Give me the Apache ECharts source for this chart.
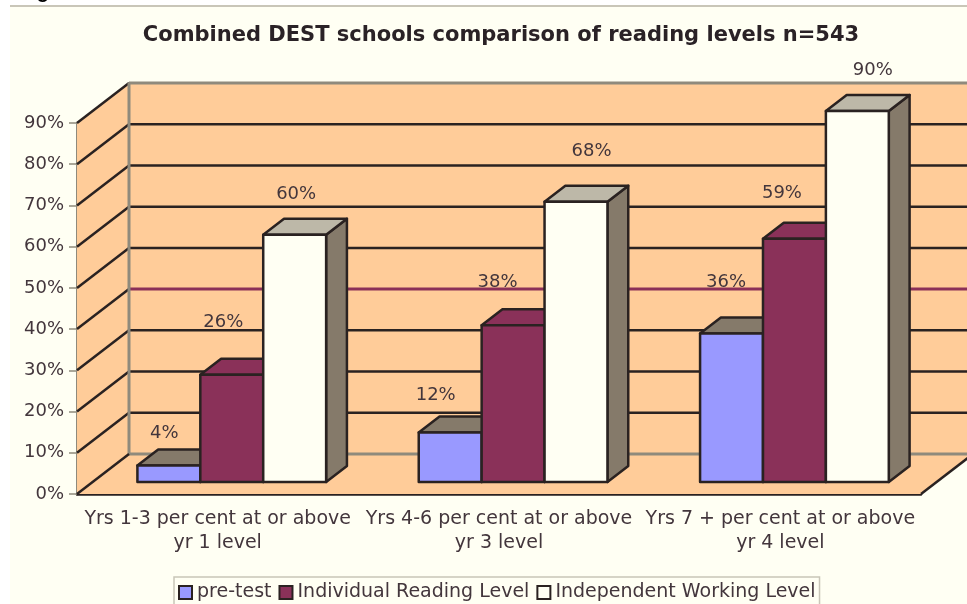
<!DOCTYPE html>
<html>
<head>
<meta charset="utf-8">
<script src="https://cdn.jsdelivr.net/npm/echarts@6/dist/echarts.min.js"></script>
<style>
html,body{margin:0;padding:0;background:#fff;overflow:hidden}
#c{width:967px;height:604px;filter:blur(0.7px)}
</style>
</head>
<body>
<div id="c"></div>
<script>
const categories = ['Yrs 1-3 per cent at or above\nyr 1 level','Yrs 4-6 per cent at or above\nyr 3 level','Yrs 7 + per cent at or above\nyr 4 level'];
const preTest = [4, 12, 36];
const individual = [26, 38, 59];
const independent = [60, 68, 90];
const seriesNames = ['pre-test','Individual Reading Level','Independent Working Level'];
const yTicks = [0,10,20,30,40,50,60,70,80,90];
const titleText = 'Combined DEST schools comparison of reading levels n=543';

// styling / layout
const faceColors = ['#9999ff','#8a3159','#fffff3'];
const topColors  = ['#857a6a','#8a3159','#bdb8a8'];
const sideColors = ['#857a6a','#8a3159','#857a6a'];
const labelShift = [
  [[-6,-32],[-10,-52],[0,-40]],
  [[-16,-37],[-17,-43],[14,-50]],
  [[-7,-51],[-14,-45],[14,-41]]
];
const DX = 52, DY = 40, T0 = 0.3, T1 = 0.7, BAR_RATIO = 0.2236, BAR_SHIFT = -1.5;
const DARK = '#2a2221', EDGE = '#8f8a7c', WALL = '#ffcc99', MARK = '#8b3058', INK = '#43363c';

const off = (p,t) => [p[0]+t*DX, p[1]-t*DY];
const poly = (points,fill,stroke,w) => ({type:'polygon',shape:{points},style:{fill,stroke:stroke||null,lineWidth:w||0,lineJoin:'round'}});
const line = (points,stroke,w) => ({type:'polyline',shape:{points},style:{fill:null,stroke,lineWidth:w}});

function renderWalls(params, api){
  if (params.dataIndex !== 0) return null;
  const n = categories.length, top = yTicks[yTicks.length-1];
  const halfBand = api.size([1,0])[0]/2;
  const L = v => { const p = api.coord([0,v]); return [p[0]-halfBand,p[1]]; };
  const R = v => { const p = api.coord([n-1,v]); return [p[0]+halfBand,p[1]]; };
  const ch = [
    poly([off(L(0),1),off(R(0),1),off(R(top),1),off(L(top),1)],WALL),
    poly([L(0),off(L(0),1),off(L(top),1),L(top)],WALL),
    poly([L(0),R(0),off(R(0),1),off(L(0),1)],WALL)
  ];
  yTicks.forEach(v=>{
    if (v===0) return;
    ch.push(line([L(v),off(L(v),1)],DARK,2.5));
    if (v<top) ch.push(line([off(L(v),1),off(R(v),1)],v===40?MARK:DARK,v===40?3:2.5));
  });
  ch.push(line([off(L(top),1),off(R(top),1)],EDGE,3));
  ch.push(line([off(L(0),1),off(L(top),1)],EDGE,3));
  ch.push(line([off(L(0),1),off(R(0),1)],EDGE,3));
  ch.push(line([L(0),off(L(0),1)],DARK,2.5));
  ch.push(line([R(0),off(R(0),1)],DARK,2.5));
  return {type:'group',children:ch};
}

function barRenderer(si){
  return function(params, api){
    const c = api.value(0), v = api.value(1);
    const bw = api.size([1,0])[0]*BAR_RATIO;
    const b = off(api.coord([c,0]),T0), t = off(api.coord([c,v]),T0);
    const x1 = b[0]+BAR_SHIFT+(si-1.5)*bw, x2 = x1+bw;
    const d = (T1-T0);
    const sh = p => [p[0]+d*DX,p[1]-d*DY];
    const s = labelShift[c][si];
    return {type:'group',children:[
      poly([[x2,b[1]],sh([x2,b[1]]),sh([x2,t[1]]),[x2,t[1]]],sideColors[si],DARK,2.5),
      poly([[x1,t[1]],sh([x1,t[1]]),sh([x2,t[1]]),[x2,t[1]]],topColors[si],DARK,2.5),
      poly([[x1,b[1]],[x2,b[1]],[x2,t[1]],[x1,t[1]]],faceColors[si],DARK,2.5),
      {type:'text',z2:50,style:{text:v+'%',x:(x1+x2)/2+s[0]+1.5,y:t[1]+s[1],align:'center',verticalAlign:'middle',
        font:'18px "DejaVu Sans"',fill:INK}}
    ]};
  };
}

const rows = [preTest,individual,independent];
const chart = echarts.init(document.getElementById('c'),null,{renderer:'canvas'});
chart.setOption({
  animation:false,
  backgroundColor:'transparent',
  graphic:[
    {type:'rect',z:-5,shape:{x:10,y:7,width:960,height:600},style:{fill:'#fffff3'}},
    {type:'line',z:-4,shape:{x1:10,y1:6,x2:967,y2:6},style:{stroke:'#c9c6b8',lineWidth:2}}
  ],
  title:[
    {text:titleText,left:496,top:20,textAlign:'center',textStyle:{fontFamily:'DejaVu Sans',fontWeight:'bold',fontSize:21,color:'#2a2226'}},
    {text:'Figure',left:14,top:-23,textStyle:{fontFamily:'Liberation Sans',fontWeight:'bold',fontSize:20,color:'#000'}}
  ],
  grid:{left:77,top:123,width:844,height:371,containLabel:false},
  xAxis:{type:'category',data:categories,
    axisLine:{lineStyle:{color:DARK,width:2.5}},
    axisTick:{length:4,lineStyle:{color:EDGE,width:1.5}},
    axisLabel:{margin:13,fontFamily:'DejaVu Sans',fontSize:19,color:INK,lineHeight:24,interval:0,align:'center'}},
  yAxis:{type:'value',min:0,max:90,interval:10,
    axisLine:{show:true,lineStyle:{color:EDGE,width:3}},
    axisTick:{show:true,length:8,lineStyle:{color:EDGE,width:1.5}},
    splitLine:{show:false},
    axisLabel:{margin:13,fontFamily:'DejaVu Sans',fontSize:18,color:INK,formatter:'{value}%'}},
  legend:{data:seriesNames,left:174,top:577,padding:[6,4,12,4],itemGap:7,itemWidth:13,itemHeight:13,
    icon:'rect',borderColor:'#c9c6b8',borderWidth:1.5,backgroundColor:'#fffff3',
    textStyle:{fontFamily:'DejaVu Sans',fontSize:19,color:INK,padding:[0,0,0,0]}},
  series:[
    {type:'custom',name:'walls',silent:true,z:1,data:[[0,0]],encode:{x:0,y:1},renderItem:renderWalls},
    ...seriesNames.map((name,si)=>({
      type:'custom',name,z:3+si,encode:{x:0,y:1},
      itemStyle:{color:faceColors[si],borderColor:DARK,borderWidth:2.5},
      data:rows[si].map((v,c)=>[c,v]),
      renderItem:barRenderer(si)
    }))
  ]
});
</script>
</body>
</html>
